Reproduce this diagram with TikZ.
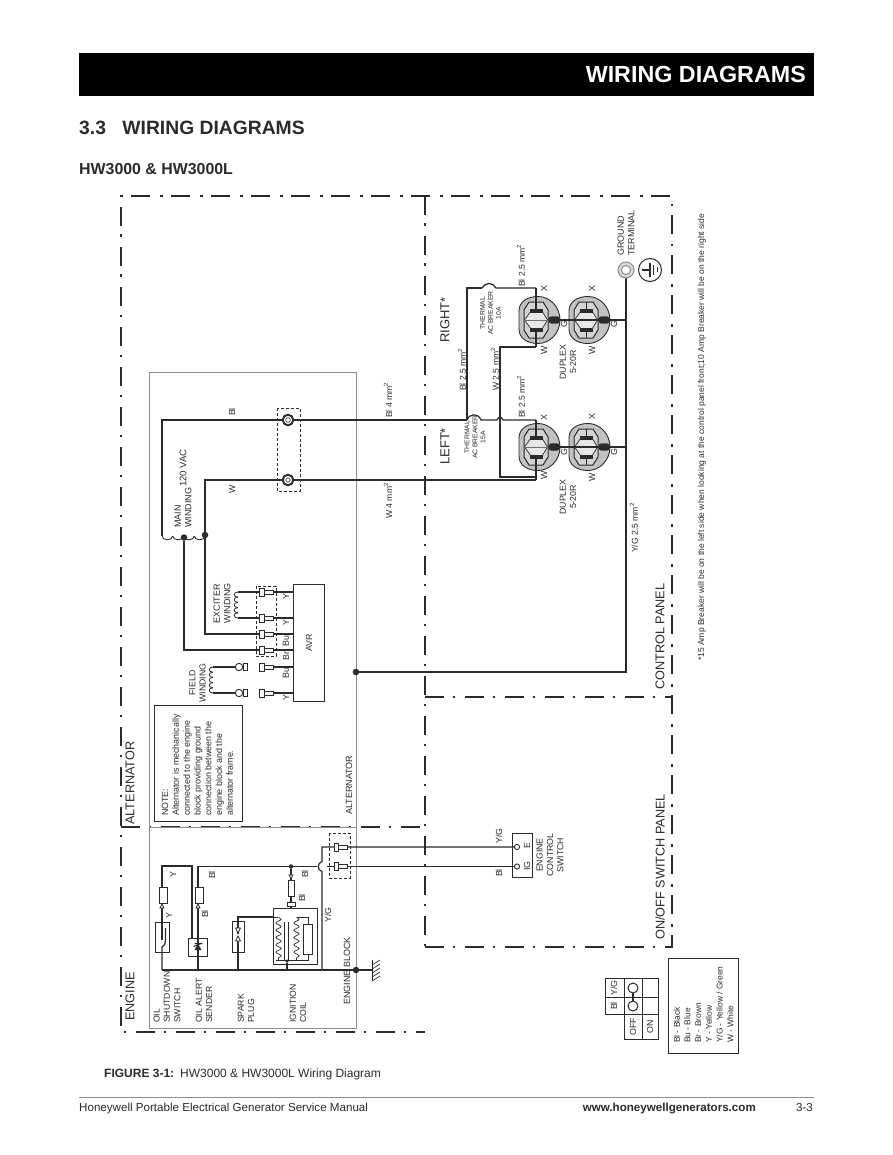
\documentclass[tikz,border=0pt]{standalone}
\usepackage{fontspec}
\setmainfont{Liberation Sans}
\usetikzlibrary{calc,decorations.pathmorphing}
\definecolor{ink}{HTML}{2B2B2B}
\definecolor{boxgrey}{HTML}{8C8C8C}
\definecolor{recgrey}{HTML}{C2C2C2}
\newcommand{\fs}[1]{\fontsize{#1}{#1}\selectfont}
\newcommand{\mmq}{mm\textsuperscript{2}}
\newcommand{\hcoil}[4]{% x0,y,n,step : bumps downward
  \foreach \ci in {1,...,#3}{
    \pgfmathsetmacro{\xa}{#1+(\ci-1)*#4}
    \pgfmathsetmacro{\xb}{#1+\ci*#4}
    \draw[wire,line width=.9] (\xa,#2) .. controls (\xa,#2+5) and (\xb,#2+5) .. (\xb,#2);
  }}
\newcommand{\vcoil}[5]{% x,y0,n,step,depth : bumps to the left
  \foreach \ci in {1,...,#3}{
    \pgfmathsetmacro{\ya}{#2+(\ci-1)*#4}
    \pgfmathsetmacro{\yb}{#2+\ci*#4}
    \draw[wire,line width=.8] (#1,\ya) .. controls (#1-#5,\ya) and (#1-#5,\yb) .. (#1,\yb);
  }}
\tikzset{
  wire/.style={draw=ink,line width=1.25},
  frameline/.style={draw=ink,line width=1.1,dash pattern=on 19 off 8.5 on 2.5 off 10},
  grey box/.style={draw=boxgrey,line width=.8},
  dashbox/.style={draw=ink,line width=.8,dash pattern=on 3 off 2},
  dot/.style={circle,fill=ink,inner sep=0,minimum size=6.5},
  small/.style={rotate=90,font=\fs{8.8},text=ink,inner sep=0,align=center},
  tiny/.style={rotate=90,font=\fs{6.8},text=ink,inner sep=0,align=center},
  lab/.style={rotate=90,font=\fs{9},text=ink,inner sep=0,anchor=west,align=left},
  mmlab/.style={lab,font=\fs{8.6}},
  big/.style={rotate=90,font=\fs{12.7},text=ink,inner sep=0,anchor=west},
  wave/.style={draw=ink,line width=.7,decorate,decoration={snake,amplitude=2.6,segment length=7.3}},
  receptacle/.pic={
    \draw[draw=ink,line width=.9,fill=recgrey] (-20,-9) .. controls (-20,-18) and (-12,-23.5) .. (-1,-23.5) .. controls (11,-23.5) and (21,-13) .. (21,0) .. controls (21,13) and (11,23.5) .. (-1,23.5) .. controls (-12,23.5) and (-20,18) .. (-20,9) -- cycle;
    \draw[draw=ink,line width=1,fill=recgrey!70!white] (-10,-18) -- (4,-18) -- (9,-10) -- (9,10) -- (4,18) -- (-10,18) -- (-15,10) -- (-15,-10) -- cycle;
    \draw[draw=ink,line width=.7,fill=recgrey!40!white] (-8,-9) -- (3,-9) -- (8.5,0) -- (3,9) -- (-8,9) -- (-14.5,0) -- cycle;
    \draw[draw=boxgrey!70!ink,line width=1] (-15,0) -- (9,0);
    \draw[draw=ink,line width=1] (-3,-18) -- (-3,-9) (-3,9) -- (-3,18);
    \fill[ink] (-9,-11.5) rectangle (3.5,-7.5);
    \fill[ink] (-9,7.5) rectangle (3.5,11.5);
    \fill[ink,rounded corners=3] (9.5,-3.7) rectangle (21,3.7);
  },
  plug/.pic={
    \draw[draw=ink,line width=.7,fill=white!92!recgrey] (4.5,-2.1) rectangle (13.5,2.1);
    \draw[draw=ink,line width=.7,fill=white!92!recgrey] (0,-4) rectangle (4.5,4);
  },
}
\begin{document}
\begin{tikzpicture}[x=1pt,y=-1pt]
\useasboundingbox (0,0) rectangle (892,1155);
\fill[white] (0,0) rectangle (892,1155);
% header
\fill[black] (79,53) rectangle (814,96);
\node[font=\fs{23.3}\bfseries,text=white,anchor=east,inner sep=0] (hdr) at (806,74.5) {WIRING DIAGRAMS};
\node[font=\fs{19.3}\bfseries,text=ink,anchor=west,inner sep=0] (sect) at (79,127.5) {3.3\hspace{.85em}WIRING DIAGRAMS};
\node[font=\fs{15.9}\bfseries,text=ink,anchor=west,inner sep=0] (model) at (79,169) {HW3000 \& HW3000L};
% frames
\draw[frameline] (425,947) -- (672,947) -- (672,196) -- (121,196) -- (121,1032) -- (425,1032);
\draw[frameline] (425,196) -- (425,947);
\draw[frameline] (425,697) -- (672,697);
\draw[frameline] (121,827) -- (425,827);
% grey boxes
\draw[grey box] (149,372) rectangle (356,827);
\draw[grey box] (149,827) rectangle (356,1028);
% big labels
\node[big] (alt) at (130,825) {ALTERNATOR};
\node[big] (eng) at (130,1021) {ENGINE};
\node[big] (cp) at (660,690) {CONTROL PANEL};
\node[big] (osp) at (660,940) {ON/OFF SWITCH PANEL};
\node[big,font=\fs{13}] (left) at (445,465) {LEFT*};
\node[big,font=\fs{13}] (right) at (445,343) {RIGHT*};

% coordinates
\coordinate (mL) at (162,536);
\coordinate (mR) at (205,536);
\coordinate (brk1a) at (467,420);
\coordinate (brk1b) at (481,420);
\coordinate (j1) at (497,420);
\coordinate (j2) at (503,420);
\coordinate (x1) at (536,420);
\coordinate (brk2a) at (482,288);
\coordinate (brk2b) at (496,288);
\coordinate (x2) at (536,288);
% main wires
\draw[wire] (mL) |- (brk1a);
\draw[wire] (brk1a) .. controls (470,413) and (478,413) .. (brk1b) -- (j1);
\draw[wire] (j1) .. controls (499,416) and (501,416) .. (j2) -- (x1);
\draw[wire] (brk1a) |- (brk2a);
\draw[wire] (brk2a) .. controls (485,282) and (493,282) .. (brk2b) -- (x2);
\draw[wire] (mR) |- (536,480);
\draw[wire] (536,347) -- (500,347) -- (500,477) -- (536,477);
\hcoil{162}{536}{4}{10.75}
\node[dot] (d1) at (184,537.5) {};
\node[dot] (d2) at (205,535) {};
\draw[wire] (d1) |- (260,650);
\draw[wire] (d2) |- (260,634);
% terminals
\draw[dashbox] (277,408) rectangle (300,491);
\foreach \ty/\tn in {420/ta,480/tb}{
  \draw[ink,line width=1.9,fill=white] (288,\ty) circle[radius=5.3];
  \draw[ink,line width=.6,fill=white] (288,\ty) circle[radius=2.3];
}
% receptacles
\coordinate (gnd) at (626,270);
\coordinate (bus) at (626,672);
\node[dot] (d3) at (356,672) {};
\draw[wire] (gnd) -- (bus) -- (d3);
\path (539,320) pic {receptacle};
\path (589,320) pic {receptacle};
\path (539,447) pic {receptacle};
\path (589,447) pic {receptacle};
\draw[wire] (555,320) -- (626,320);
\draw[wire] (555,447) -- (626,447);
\draw[wire] (536,288) -- (536,310.5) (536,329.5) -- (536,347);
\draw[wire] (536,420) -- (536,437.5) (536,456.5) -- (536,480);
\draw[boxgrey,line width=1,fill=recgrey!60!white] (gnd) circle[radius=8];
\draw[boxgrey,line width=1,fill=white] (gnd) circle[radius=4.6];
\draw[ink,line width=1] (650,270) circle[radius=11.5];
\draw[wire] (642,270) -- (650,270) (650,263) -- (650,277);
\draw[ink,line width=.9] (653.5,265) -- (653.5,275) (657,267.5) -- (657,272.5);
% AVR
\draw[draw=ink,line width=1] (293,584) rectangle (324,701);
\node[small] (avr) at (309,643) {AVR};
\draw[dashbox] (256,586) rectangle (276,656);
\foreach \wy in {592,618,634,650,667,693}{
  \draw[wire] (273,\wy) -- (293,\wy);
  \path (259.5,\wy) pic {plug};
}
\draw[wire] (238,592) -- (259.5,592);
\draw[wire] (238,618) -- (259.5,618);
\vcoil{238}{592}{5}{5.2}{5}
% field
\draw[wire] (213,667) -- (235.5,667);
\draw[wire] (213,693) -- (235.5,693);
\vcoil{213}{667}{5}{5.2}{5}
\foreach \wy in {667,693}{
  \draw[ink,line width=.9,fill=white] (239,\wy) circle[radius=3.7];
  \draw[ink,line width=.7,fill=white] (243,\wy-3.5) rectangle (247,\wy+3.5);
}
% note
\draw[draw=ink,line width=1] (154.5,705.5) rectangle (242,821);
\node[lab,font=\fontsize{8.9}{10.8}\selectfont] (note) at (197.5,816) {NOTE:\\Alternator is mechanically\\connected to the engine\\block providing ground\\connection between the\\engine block and the\\alternator frame.};
% engine wiring
\coordinate (busL) at (162,970);
\node[dot] (d4) at (356,970) {};
\coordinate (hatch) at (372,970);
\draw[wire] (busL) -- (d4) -- (hatch);
\draw[ink,line width=1] (372,960) -- (372,981);
\foreach \hy in {960,964,968,972,976}{\draw[ink,line width=.7] (372,\hy+5) -- (380,\hy);}
% oil shutdown switch
\draw[draw=ink,line width=.8] (155,922) rectangle (169,952);
\draw[wire] (busL) -- (162,947) .. controls (165,945) and (165.5,943) .. (165.5,940) -- (165.5,928);
\draw[wire] (162,940) -- (162,906);
\draw[draw=ink,line width=.7,fill=white] (159,887) rectangle (167,903);
\draw[ink,line width=.7,fill=white] (162,904) -- (160,908) -- (164,908) -- cycle;
\draw[wire] (162,887) -- (162,866) -- (192,866) -- (192,938);
% oil alert sender
\draw[draw=ink,line width=1] (188,938) rectangle (207,956);
\draw[wire] (198,970) -- (198,906);
\draw[draw=ink,line width=.7,fill=white] (195,887) rectangle (203,903);
\draw[ink,line width=.7,fill=white] (198,904) -- (196,908) -- (200,908) -- cycle;
\fill[ink] (198,943.5) -- (194.5,950) -- (201.5,950) -- cycle;
\draw[ink,line width=1] (194.5,943.5) -- (201.5,943.5) (193.5,946.5) -- (202.5,943);
\coordinate (blE) at (517,866.5);
\draw[wire] (198,887) -- (198,866.5) -- (317,866.5);
\draw[wire] (327,866.5) -- (blE);
\draw[wire] (322,970) -- (322,871.5) .. controls (317,870) and (317,863) .. (322,861.5) -- (322,847) -- (517,847);
\node[dot,minimum size=4.5] (d5) at (291,866.5) {};
\draw[wire] (d5) -- (291,880);
\draw[ink,line width=.7,fill=white] (291,878.5) -- (289,875) -- (293,875) -- cycle;
\draw[draw=ink,line width=.7,fill=white] (288,880) rectangle (294,896);
\draw[wire] (291,896) -- (291,908);
\draw[draw=ink,line width=.7,fill=white] (287.5,902) rectangle (295,906);
% spark plug
\draw[draw=ink,line width=.9] (232,921) rectangle (244,952);
\draw[wire] (238,970) -- (238,940);
\draw[wire] (238,934) -- (238,917) -- (273,917);
\draw[ink,line width=.7,fill=white] (238,936) -- (235.5,941) -- (240.5,941) -- cycle;
\draw[ink,line width=.7,fill=white] (238,933) -- (235.5,928) -- (240.5,928) -- cycle;
% ignition coil
\draw[draw=ink,line width=.95] (273,908) rectangle (317,964);
\draw[wire,line width=.8] (273,917) -- (278,917);
\draw[wave] (278.5,917) -- (278.5,960);
\draw[ink,line width=.8] (284.5,922) -- (284.5,960) (288.5,922) -- (288.5,960);
\draw[wave] (296.5,917) -- (296.5,960);
\draw[wire,line width=.8] (296.5,917) -- (308,917) -- (308,924);
\draw[draw=ink,line width=1,fill=white] (303.5,924) rectangle (312,954);
\draw[wire,line width=.8] (308,954) -- (308,960) -- (276,960);
\node[dot,minimum size=3.5] (d6) at (287,961) {};
\draw[wire] (d6) -- (287,970);
% connectors to engine control switch
\draw[dashbox] (329,833) rectangle (350,878);
\path (334,847) pic {plug};
\path (334,866.5) pic {plug};
% switch
\draw[draw=ink,line width=1] (512,833) rectangle (532,877);
\draw[ink,line width=.9,fill=white] (517,847) circle[radius=2.6];
\draw[ink,line width=.9,fill=white] (517,866.5) circle[radius=2.6];
\node[small] (e) at (527,846) {E};
\node[small] (ig) at (527,866) {IG};
\node[small] (ecs) at (550,855) {ENGINE\\[1.6pt]CONTROL\\[1.6pt]SWITCH};
\node[small] (s1) at (499,836) {Y/G};
\node[small] (s2) at (499,873) {Bl};
% text wire labels
\node[small] at (232,412) {Bl};
\node[small] at (232,489) {W};
\node[mmlab] at (388,418) {Bl 4 \mmq};
\node[mmlab] at (388,519) {W 4 \mmq};
\node[lab,font=\fs{9.6}] at (183,487) {120 VAC};
\node[lab] at (183,528) {MAIN\\[1.4pt]WINDING};
\node[lab] at (222,623.5) {EXCITER\\[1.4pt]WINDING};
\node[small] at (197.5,683) {FIELD\\[1.4pt]WINDING};
\node[small] at (286,597) {Y};
\node[small] at (286,623) {Y};
\node[small] at (286,641) {Bu};
\node[small] at (286,656) {Br};
\node[small] at (286,673) {Bu};
\node[small] at (286,698) {Y};
\node[lab] at (349,815) {ALTERNATOR};
\node[lab] at (347,1005) {ENGINE BLOCK};
\node[small] at (173,875) {Y};
\node[small] at (169,916) {Y};
\node[small] at (212,875) {Bl};
\node[small] at (205,914) {Bl};
\node[small] at (305,874) {Bl};
\node[small] at (302,898) {Bl};
\node[small] at (328,915) {Y/G};
\node[lab,font=\fs{8.7}] at (167,1023) {OIL\\[1.7pt]SHUTDOWN\\[1.7pt]SWITCH};
\node[lab,font=\fs{8.7}] at (204,1023) {OIL ALERT\\[1.7pt]SENDER};
\node[lab,font=\fs{8.7}] at (246,1023) {SPARK\\[1.7pt]PLUG};
\node[lab,font=\fs{8.7}] at (298,1023) {IGNITION\\[1.7pt]COIL};
% panel labels
\node[mmlab] at (462,391) {Bl 2.5 \mmq};
\node[mmlab] at (495,391) {W 2.5 \mmq};
\node[mmlab] at (521,418) {Bl 2.5 \mmq};
\node[mmlab] at (521,287) {Bl 2.5 \mmq};
\node[mmlab] at (634,553) {Y/G 2.5 \mmq};
\node[tiny] at (475,437) {THERMAL\\[1.2pt]AC BREAKER\\[1.2pt]15A};
\node[tiny] at (490.5,313) {THERMAL\\[1.2pt]AC BREAKER\\[1.2pt]10A};
\foreach \px/\py/\pt in {544/289/X,592/289/X,544/418/X,592/417/X,564/324/G,614/324/G,564/452/G,614/452/G,544/350/W,592/350/W,544/475/W,592/477/W}{
  \node[small] at (\px,\py) {\pt};
}
\node[small] at (568,362) {DUPLEX\\[1.4pt]5-20R};
\node[small] at (568,497) {DUPLEX\\[1.4pt]5-20R};
\node[lab] at (626,256) {GROUND\\[1.4pt]TERMINAL};
\node[lab,font=\fs{8.5}] (foot) at (702,661) {*15 Amp Breaker will be on the left side when looking at the control panel front;10 Amp Breaker will be on the right side};
% table
\draw[draw=ink,line width=1] (605,978) rectangle (658,1014);
\draw[draw=ink,line width=1] (605,997) -- (658,997) (624,978) -- (624,1039) -- (658,1039) -- (658,1014) -- (624,1014) (642,978) -- (642,1039);
\draw[wire] (633,988) -- (633,1006);
\draw[ink,line width=1,fill=white] (633,988) circle[radius=5];
\draw[ink,line width=1,fill=white] (633,1006) circle[radius=5];
\node[small] at (614,988) {Y/G};
\node[small] at (614,1006) {Bl};
\node[small] at (633,1027) {OFF};
\node[small] at (650,1027) {ON};
% legend
\draw[draw=ink,line width=1] (668,958) rectangle (738,1053);
\node[lab,font=\fontsize{8.4}{10.7}\selectfont] at (703.5,1043) {Bl - Black\\Bu - Blue\\Br - Brown\\Y - Yellow\\Y/G - Yellow / Green\\W - White};
% caption and footer
\node[font=\fs{12},text=ink,anchor=west,inner sep=0] (cap) at (104,1074) {\textbf{FIGURE 3-1:}\hspace{.5em}HW3000 \& HW3000L Wiring Diagram};
\draw[boxgrey,line width=.8] (79,1097) -- (814,1097);
\node[font=\fs{11.6},text=ink,anchor=base west,inner sep=0] (f1) at (79,1111) {Honeywell Portable Electrical Generator Service Manual};
\node[font=\fs{11.6}\bfseries,text=ink,anchor=base east,inner sep=0] (f2) at (756,1111) {www.honeywellgenerators.com};
\node[font=\fs{11.6},text=ink,anchor=base east,inner sep=0] (f3) at (813,1111) {3-3};
\end{tikzpicture}
\end{document}
